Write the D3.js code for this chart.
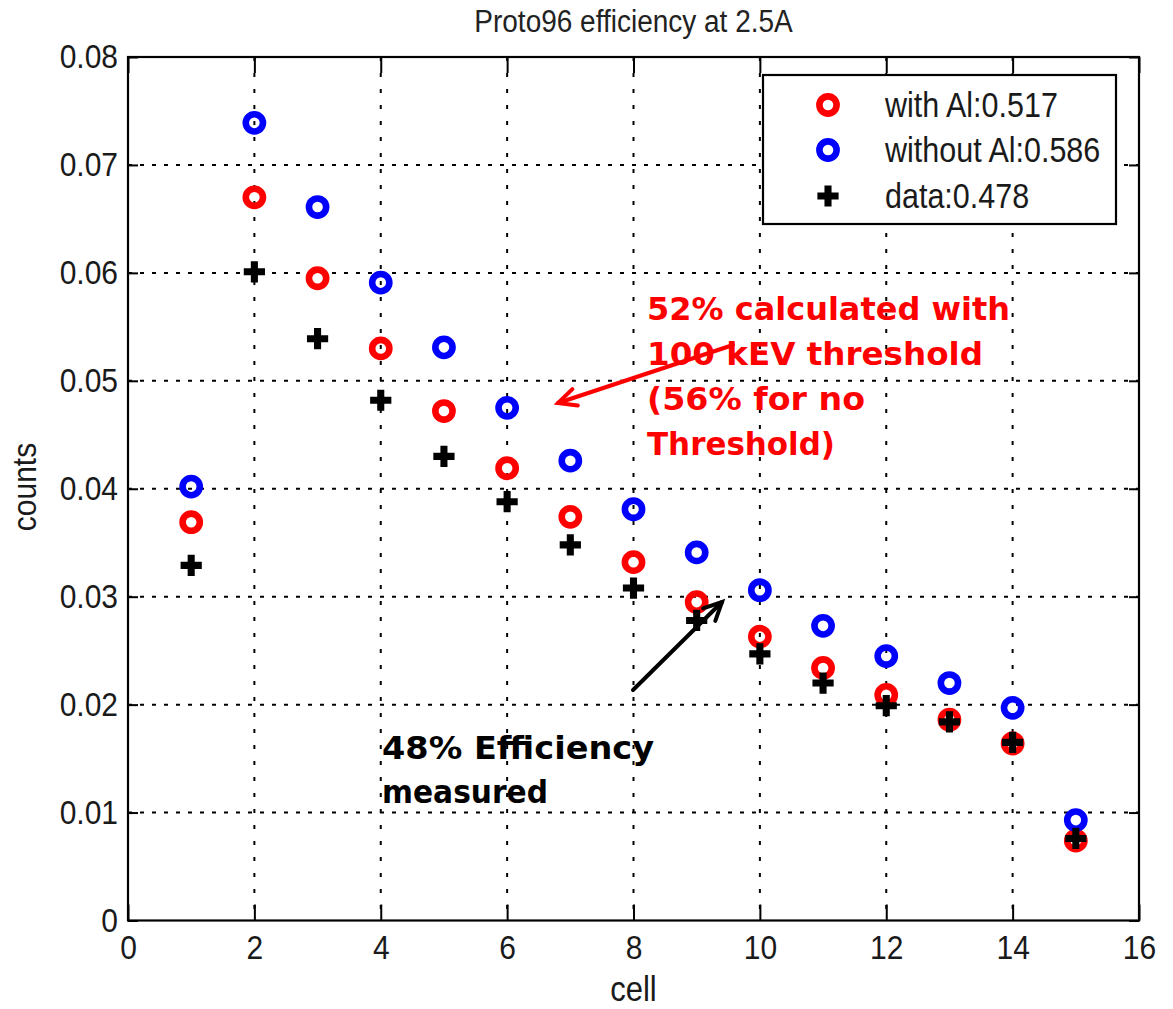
<!DOCTYPE html>
<html>
<head>
<meta charset="utf-8">
<script src="https://cdn.jsdelivr.net/npm/d3@7"></script>
<style>
  html, body { margin: 0; padding: 0; background: #fff; }
  svg { display: block; }
</style>
</head>
<body>
<svg id="chart" width="1173" height="1009"></svg>
<script>
// Detector cells along the x axis
const cells = [1, 2, 3, 4, 5, 6, 7, 8, 9, 10, 11, 12, 13, 14, 15];

// Simulated counts with the aluminium layer
const withAl = [0.0369, 0.0670, 0.0595, 0.0530, 0.0472, 0.0419, 0.0374, 0.0332, 0.0295, 0.0263, 0.0234, 0.0209, 0.0186, 0.0164, 0.0074];
// Simulated counts without the aluminium layer
const withoutAl = [0.0402, 0.0739, 0.0661, 0.0591, 0.0531, 0.0475, 0.0426, 0.0381, 0.0341, 0.0306, 0.0273, 0.0245, 0.0220, 0.0197, 0.0093];
// Measured counts
const measured = [0.0329, 0.0601, 0.0539, 0.0482, 0.0430, 0.0388, 0.0348, 0.0308, 0.0278, 0.0247, 0.0220, 0.0199, 0.0184, 0.0165, 0.0076];

const seriesNames = ["with Al:0.517", "without Al:0.586", "data:0.478"];

const xTicks = [0, 2, 4, 6, 8, 10, 12, 14, 16];
const xTickLabels = ["0", "2", "4", "6", "8", "10", "12", "14", "16"];
const yTicks = [0, 0.01, 0.02, 0.03, 0.04, 0.05, 0.06, 0.07, 0.08];
const yTickLabels = ["0", "0.01", "0.02", "0.03", "0.04", "0.05", "0.06", "0.07", "0.08"];

const titleText = "Proto96 efficiency at 2.5A";
const xLabel = "cell";
const yLabel = "counts";

const simNote = ["52% calculated with", "100 kEV threshold", "(56% for no", "Threshold)"];
const dataNote = ["48% Efficiency", "measured"];

// ---- layout ----
const svg = d3.select("#chart");
const L = 128, R = 1139, T = 57, B = 920.5;
const x = d3.scaleLinear().domain([0, 16]).range([L, R]);
const y = d3.scaleLinear().domain([0, 0.08]).range([B, T]);

const axisFont = "'Liberation Sans', Arial, Helvetica, sans-serif";
const noteFont = "'Comic Sans MS', 'DejaVu Sans', sans-serif";
const SY = 1.13; // glyphs are drawn slightly taller than wide

// text placed at (px, py) with a vertical stretch
function label(parent, px, py, str, size, opts = {}) {
  const g = parent.append("g")
    .attr("transform", `translate(${px},${py})${opts.rotate ? ` rotate(${opts.rotate})` : ""} scale(1,${SY})`);
  return g.append("text")
    .attr("text-anchor", opts.anchor || "start")
    .attr("font-family", opts.family || axisFont)
    .attr("font-size", size)
    .attr("fill", opts.fill || "#1a1a1a")
    .text(str);
}

// ---- grid ----
const grid = svg.append("g");
grid.selectAll("line.gx")
  .data(xTicks.slice(1, -1))
  .join("line")
  .attr("x1", d => x(d)).attr("x2", d => x(d))
  .attr("y1", T).attr("y2", B)
  .attr("stroke", "#000").attr("stroke-width", 2)
  .attr("stroke-dasharray", "4,12");
grid.selectAll("line.gy")
  .data(yTicks.slice(1, -1))
  .join("line")
  .attr("x1", L).attr("x2", R)
  .attr("y1", d => y(d)).attr("y2", d => y(d))
  .attr("stroke", "#000").attr("stroke-width", 2)
  .attr("stroke-dasharray", "4,8");

// ---- axes (ticks pointing inward on all four sides) ----
function styleAxis(g) {
  g.select(".domain").remove();
  g.selectAll(".tick line").attr("stroke", "#000").attr("stroke-width", 2);
  g.selectAll(".tick text")
    .attr("font-family", axisFont)
    .attr("font-size", 30)
    .attr("fill", "#1a1a1a")
    .attr("transform", `scale(1,${SY})`);
}

svg.append("g")
  .attr("transform", `translate(0,${B})`)
  .call(d3.axisBottom(x).tickValues(xTicks).tickSize(-16).tickPadding(14)
    .tickFormat((d, i) => xTickLabels[i]))
  .call(styleAxis)
  .call(g => g.selectAll(".tick text").attr("y", 14 / SY).attr("dy", "0.71em"));

svg.append("g")
  .attr("transform", `translate(0,${T})`)
  .call(d3.axisTop(x).tickValues(xTicks).tickSize(-16).tickFormat(""))
  .call(styleAxis);

svg.append("g")
  .attr("transform", `translate(${L},0)`)
  .call(d3.axisLeft(y).tickValues(yTicks).tickSize(-10).tickPadding(10)
    .tickFormat((d, i) => yTickLabels[i]))
  .call(styleAxis);

svg.append("g")
  .attr("transform", `translate(${R},0)`)
  .call(d3.axisRight(y).tickValues(yTicks).tickSize(-10).tickFormat(""))
  .call(styleAxis);

// plot box
svg.append("rect")
  .attr("x", L).attr("y", T)
  .attr("width", R - L).attr("height", B - T)
  .attr("fill", "none").attr("stroke", "#000").attr("stroke-width", 2.2);

// ---- titles ----
label(svg, (L + R) / 2, 32, titleText, 28, { anchor: "middle", fill: "#222" });
label(svg, (L + R) / 2, 1001, xLabel, 31, { anchor: "middle" });
label(svg, 36, 487, yLabel, 30, { anchor: "middle", rotate: -90 });

// ---- markers ----
const plusPath = d3.symbol().type(d3.symbolCross).size(250)();

function drawRings(values, color) {
  svg.append("g").selectAll("circle")
    .data(cells.map((c, i) => [c, values[i]]))
    .join("circle")
    .attr("cx", d => x(d[0])).attr("cy", d => y(d[1]))
    .attr("r", 8.6)
    .attr("fill", "none").attr("stroke", color).attr("stroke-width", 6.6);
}
drawRings(withAl, "#ff0000");
drawRings(withoutAl, "#0000ff");

svg.append("g").selectAll("path")
  .data(cells.map((c, i) => [c, measured[i]]))
  .join("path")
  .attr("d", plusPath)
  .attr("transform", d => `translate(${x(d[0])},${y(d[1])})`)
  .attr("fill", "#000");

// ---- legend ----
const lg = svg.append("g");
lg.append("rect")
  .attr("x", 763).attr("y", 75).attr("width", 353).attr("height", 149)
  .attr("fill", "#fff").attr("stroke", "#000").attr("stroke-width", 2.2);
const rowY = [105, 150, 196];
lg.append("circle").attr("cx", 828).attr("cy", rowY[0]).attr("r", 8.6)
  .attr("fill", "none").attr("stroke", "#ff0000").attr("stroke-width", 6.6);
lg.append("circle").attr("cx", 828).attr("cy", rowY[1]).attr("r", 8.6)
  .attr("fill", "none").attr("stroke", "#0000ff").attr("stroke-width", 6.6);
lg.append("path").attr("d", plusPath)
  .attr("transform", `translate(828,${rowY[2]})`).attr("fill", "#000");
seriesNames.forEach((name, i) => label(lg, 885, rowY[i] + 12, name, 30.5));

// ---- annotations ----
function arrow(x1, y1, x2, y2, color) {
  const g = svg.append("g").attr("stroke", color).attr("stroke-width", 4)
    .attr("stroke-linecap", "round").attr("fill", "none");
  g.append("line").attr("x1", x1).attr("y1", y1).attr("x2", x2).attr("y2", y2);
  const a = Math.atan2(y1 - y2, x1 - x2), len = 20, spread = 0.45;
  g.append("path").attr("d",
    `M${x2 + len * Math.cos(a + spread)},${y2 + len * Math.sin(a + spread)}` +
    `L${x2},${y2}` +
    `L${x2 + len * Math.cos(a - spread)},${y2 + len * Math.sin(a - spread)}`);
}

const simWidths = [363, 336, 218, 188];
svg.append("g").selectAll("text")
  .data(simNote)
  .join("text")
  .attr("x", 647).attr("y", (d, i) => 320 + i * 45)
  .attr("font-family", noteFont).attr("font-weight", "bold").attr("font-size", 32)
  .attr("fill", "#ff0000")
  .attr("textLength", (d, i) => simWidths[i]).attr("lengthAdjust", "spacingAndGlyphs")
  .text(d => d);
arrow(733, 345, 558, 403, "#ff0000");

const dataWidths = [272, 166];
svg.append("g").selectAll("text")
  .data(dataNote)
  .join("text")
  .attr("x", 382).attr("y", (d, i) => 759 + i * 44)
  .attr("font-family", noteFont).attr("font-weight", "bold").attr("font-size", 32)
  .attr("fill", "#000")
  .attr("textLength", (d, i) => dataWidths[i]).attr("lengthAdjust", "spacingAndGlyphs")
  .text(d => d);
arrow(633, 690, 722, 602, "#000");
</script>
</body>
</html>
